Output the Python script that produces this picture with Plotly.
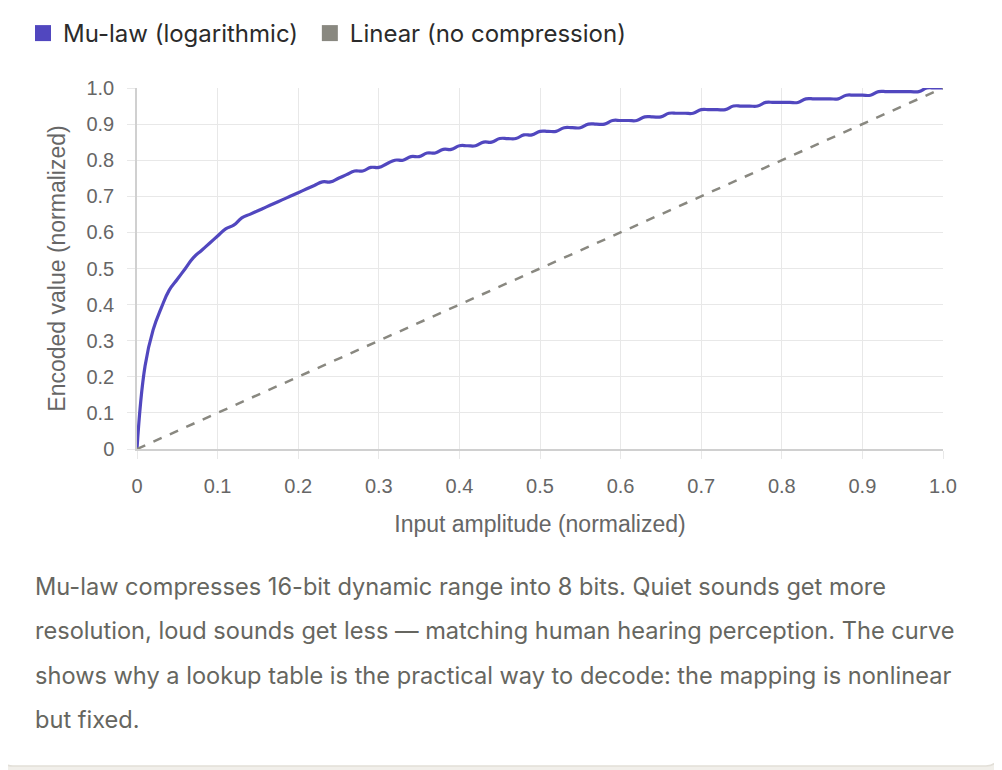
import plotly.graph_objects as go

# input amplitude samples and encoded values
amplitude = [i / 100 for i in range(101)]
mu_law = [
    0.00, 0.23, 0.33, 0.39, 0.44, 0.47, 0.50, 0.53, 0.55, 0.57,
    0.59, 0.61, 0.62, 0.64, 0.65, 0.66, 0.67, 0.68, 0.69, 0.70,
    0.71, 0.72, 0.73, 0.74, 0.74, 0.75, 0.76, 0.77, 0.77, 0.78,
    0.78, 0.79, 0.80, 0.80, 0.81, 0.81, 0.82, 0.82, 0.83, 0.83,
    0.84, 0.84, 0.84, 0.85, 0.85, 0.86, 0.86, 0.86, 0.87, 0.87,
    0.88, 0.88, 0.88, 0.89, 0.89, 0.89, 0.90, 0.90, 0.90, 0.91,
    0.91, 0.91, 0.91, 0.92, 0.92, 0.92, 0.93, 0.93, 0.93, 0.93,
    0.94, 0.94, 0.94, 0.94, 0.95, 0.95, 0.95, 0.95, 0.96, 0.96,
    0.96, 0.96, 0.96, 0.97, 0.97, 0.97, 0.97, 0.97, 0.98, 0.98,
    0.98, 0.98, 0.99, 0.99, 0.99, 0.99, 0.99, 0.99, 1.00, 1.00,
    1.00,
]
linear_x = [0, 1]
linear_y = [0, 1]

tick_vals = [i / 10 for i in range(11)]
tick_text = ['0', '0.1', '0.2', '0.3', '0.4', '0.5', '0.6', '0.7', '0.8', '0.9', '1.0']

caption_lines = [
    'Mu-law compresses 16-bit dynamic range into 8 bits. Quiet sounds get more',
    'resolution, loud sounds get less \u2014 matching human hearing perception. The curve',
    'shows why a lookup table is the practical way to decode: the mapping is nonlinear',
    'but fixed.',
]

MU_COLOR = '#5147bf'
LIN_COLOR = '#898880'
TEXT_FONT = 'Inter, Lato, sans-serif'
TICK_FONT = 'Liberation Sans, Arial, sans-serif'

# page body adds an 8px margin, so work in screen pixels minus that
OFF = 8
W, H = 1002 - OFF, 770 - OFF
L, R, T, B = 137 - OFF, 943 - OFF, 88 - OFF, 449 - OFF


def px(x):
    return (x - OFF - L) / (R - L)


def py(y):
    return (B - (y - OFF)) / (B - T)


fig = go.Figure()
fig.add_trace(go.Scatter(
    name='Mu-law (logarithmic)', x=amplitude, y=mu_law, mode='lines',
    line=dict(color=MU_COLOR, width=3.2, shape='spline', smoothing=1.3),
    showlegend=False,
))
fig.add_trace(go.Scatter(
    name='Linear (no compression)', x=linear_x, y=linear_y, mode='lines',
    line=dict(color=LIN_COLOR, width=2.5, dash='dash'),
    showlegend=False,
))
# legend entries drawn as square swatches
fig.add_trace(go.Scatter(name='Mu-law (logarithmic)\u00a0', x=[None], y=[None], mode='markers',
                         marker=dict(symbol='square', size=20, color=MU_COLOR)))
fig.add_trace(go.Scatter(name='Linear (no compression)', x=[None], y=[None], mode='markers',
                         marker=dict(symbol='square', size=20, color=LIN_COLOR)))

# card background with rounded bottom corners
x0, x1, y1, r = px(1), px(998), py(766), 12
rx, ry = r / (R - L), r / (B - T)
fig.add_shape(
    type='path', xref='paper', yref='paper', layer='below',
    path=(f'M {x0},{py(-20)} L {x0},{y1 + ry} Q {x0},{y1} {x0 + rx},{y1} '
          f'L {x1 - rx},{y1} Q {x1},{y1} {x1},{y1 + ry} L {x1},{py(-20)} Z'),
    fillcolor='white', line=dict(color='#e2dfd8', width=1.5),
)

for i, line in enumerate(caption_lines):
    fig.add_annotation(
        text=line, xref='paper', yref='paper', x=px(33), y=py(586 + i * 44.5),
        xanchor='left', yanchor='middle', showarrow=False,
        font=dict(family=TEXT_FONT, size=23.6, color='#666660'),
    )

axis_common = dict(
    range=[0, 1], tickvals=tick_vals, ticktext=tick_text,
    showgrid=True, gridcolor='#e8e8e8', gridwidth=1,
    zeroline=False, showline=True, linecolor='#d0d0d0', linewidth=1.5,
    ticks='outside', ticklen=8, tickcolor='#e8e8e8',
    tickfont=dict(family=TICK_FONT, size=20, color='#666666'),
    fixedrange=True,
)
fig.update_xaxes(**axis_common, ticklabelstandoff=10,
                 title=dict(text='Input amplitude (normalized)', standoff=20,
                            font=dict(family=TICK_FONT, size=23, color='#666666')))
fig.update_yaxes(**axis_common, ticklabelstandoff=9,
                 title=dict(text='Encoded value (normalized)', standoff=14,
                            font=dict(family=TICK_FONT, size=23, color='#666666')))

fig.update_layout(
    width=W, height=H,
    margin=dict(l=L, r=W - R, t=T, b=H - B),
    paper_bgcolor='#f1efea', plot_bgcolor='white',
    legend=dict(orientation='h', xref='container', yref='container',
                x=15 / W, y=1 - 3 / H, xanchor='left', yanchor='top',
                font=dict(family=TEXT_FONT, size=24, color='#2b2b2b'),
                bgcolor='rgba(0,0,0,0)', itemclick=False, itemdoubleclick=False),
    showlegend=True,
)

fig.write_html('out.html')
